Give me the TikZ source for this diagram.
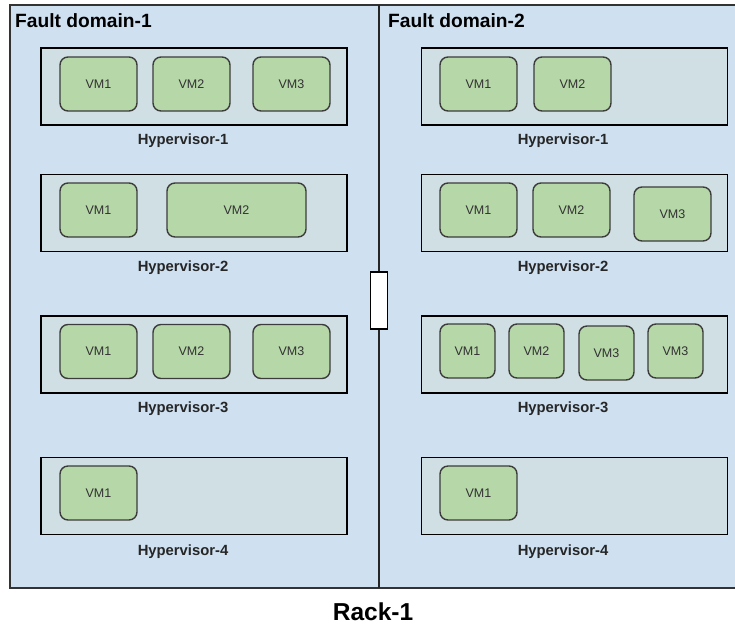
\documentclass[tikz,border=0pt]{standalone}
\usepackage{fontspec}
\setmainfont{Liberation Sans}
\definecolor{rackblue}{RGB}{207,225,241}
\definecolor{hvfill}{RGB}{208,223,227}
\definecolor{vmfill}{RGB}{182,215,168}
\definecolor{vmline}{RGB}{60,60,60}
\definecolor{vmtext}{RGB}{50,50,50}
\tikzset{
  rackbox/.style={draw=black!80, line width=1.6pt, fill=rackblue, inner sep=0pt},
  hvbox/.style={draw=black, line width=1.8pt, fill=hvfill, minimum width=306pt, minimum height=77pt, inner sep=0pt},
  vmbox/.style={draw=vmline, line width=1.4pt, fill=vmfill, rounded corners=8pt, minimum width=77pt, minimum height=54pt, inner sep=0pt, text=vmtext, font=\fontsize{12.5}{12.5}\selectfont},
  vmsmall/.style={vmbox, minimum width=55pt},
  hvlabel/.style={font=\bfseries\fontsize{14.8}{14.8}\selectfont, text=black!85, inner sep=0pt},
  fdlabel/.style={font=\bfseries\fontsize{19.2}{19.2}\selectfont, anchor=base west, inner sep=0pt},
  divider/.style={draw=black!85, line width=2.4pt},
  linkbox/.style={draw=black, line width=1.2pt, fill=white, minimum width=17pt, minimum height=57pt, inner sep=0pt}
}
\begin{document}
\begin{tikzpicture}[x=1pt,y=-1pt]
\useasboundingbox (0,0) rectangle (735,627);
% rack enclosure (continues past the right edge)
\node[rackbox, minimum width=745pt, minimum height=583pt] (rack) at (382.5,296.5) {};
\coordinate (divtop) at (379,5);
\coordinate (divbot) at (379,588);
\draw[divider] (divtop) -- (divbot);
\node[linkbox] (link) at (379,300.5) {};

\node[fdlabel] (fd1) at (15,27) {Fault domain-1};
\node[fdlabel] (fd2) at (388,27) {Fault domain-2};

% ---- fault domain 1 ----
\node[hvbox] (l1) at (194,86.5) {};
\node[vmbox] (l1a) at (98.5,84) {VM1};
\node[vmbox] (l1b) at (191.5,84) {VM2};
\node[vmbox] (l1c) at (291.5,84) {VM3};
\node[hvlabel] (l1t) at (183,141) {Hypervisor-1};

\node[hvbox] (l2) at (194,213) {};
\node[vmbox] (l2a) at (98.5,210) {VM1};
\node[vmbox, minimum width=139pt] (l2b) at (236.5,210) {VM2};
\node[hvlabel] (l2t) at (183,268) {Hypervisor-2};

\node[hvbox] (l3) at (194,354.5) {};
\node[vmbox] (l3a) at (98.5,351.5) {VM1};
\node[vmbox] (l3b) at (191.5,351.5) {VM2};
\node[vmbox] (l3c) at (291.5,351.5) {VM3};
\node[hvlabel] (l3t) at (183,409) {Hypervisor-3};

\node[hvbox] (l4) at (194,496) {};
\node[vmbox] (l4a) at (98.5,493) {VM1};
\node[hvlabel] (l4t) at (183,552) {Hypervisor-4};

% ---- fault domain 2 ----
\node[hvbox] (r1) at (574.5,86.5) {};
\node[vmbox] (r1a) at (478.5,84) {VM1};
\node[vmbox] (r1b) at (572.5,84) {VM2};
\node[hvlabel] (r1t) at (563,141) {Hypervisor-1};

\node[hvbox] (r2) at (574.5,213) {};
\node[vmbox] (r2a) at (478.5,210) {VM1};
\node[vmbox] (r2b) at (571.5,210) {VM2};
\node[vmbox] (r2c) at (672.5,214) {VM3};
\node[hvlabel] (r2t) at (563,268) {Hypervisor-2};

\node[hvbox] (r3) at (574.5,354.5) {};
\node[vmsmall] (r3a) at (467.5,351) {VM1};
\node[vmsmall] (r3b) at (536.5,351) {VM2};
\node[vmsmall] (r3c) at (606.5,353) {VM3};
\node[vmsmall] (r3d) at (675.5,351) {VM3};
\node[hvlabel] (r3t) at (563,409) {Hypervisor-3};

\node[hvbox] (r4) at (574.5,496) {};
\node[vmbox] (r4a) at (478.5,493) {VM1};
\node[hvlabel] (r4t) at (563,552) {Hypervisor-4};

\node[font=\bfseries\fontsize{24.5}{24.5}\selectfont, inner sep=0pt] (racklabel) at (373,612) {Rack-1};
\end{tikzpicture}
\end{document}
